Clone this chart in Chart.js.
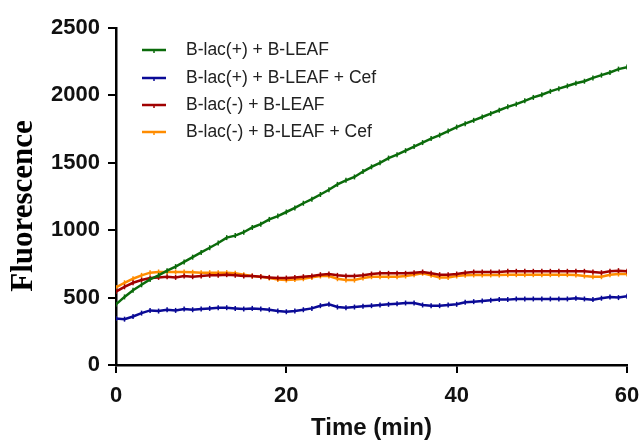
<!DOCTYPE html>
<html lang="en">
<head>
  <meta charset="UTF-8" />
  <title>Fluorescence over time</title>
  <script src="https://cdn.jsdelivr.net/npm/chart.js"></script>
  <style>
    html, body {
      margin: 0;
      padding: 0;
      background: #fff;
    }
    #chart-container {
      width: 641px;
      height: 444px;
      position: relative;
    }
  </style>
</head>
<body>
  <div id="chart-container">
    <canvas id="myChart" width="641" height="444"></canvas>
  </div>

  <script>
    // sample times, one reading per minute
    const minutes = Array.from({ length: 61 }, (_, i) => i);

    const labels = [
      'B-lac(+) + B-LEAF',
      'B-lac(+) + B-LEAF + Cef',
      'B-lac(-) + B-LEAF',
      'B-lac(-) + B-LEAF + Cef'
    ];

    const lacPlus = [
      450, 505, 555, 595, 635, 665, 700, 730, 765, 800,
      835, 870, 905, 945, 960, 985, 1020, 1045, 1080, 1105,
      1135, 1165, 1200, 1230, 1265, 1300, 1340, 1370, 1395, 1435,
      1470, 1500, 1535, 1560, 1590, 1620, 1650, 1680, 1705, 1735,
      1765, 1790, 1815, 1840, 1865, 1890, 1915, 1935, 1960, 1985,
      2005, 2030, 2050, 2070, 2090, 2105, 2130, 2150, 2170, 2195,
      2210
    ];

    const lacPlusCef = [
      345, 340, 360, 385, 405, 400, 410, 405, 415, 410,
      415, 420, 425, 425, 420, 415, 420, 415, 410, 400,
      395, 400, 410, 420, 440, 450, 430, 425, 430, 435,
      440, 445, 450, 455, 460, 460, 445, 440, 440, 445,
      450, 465, 470, 475, 480, 485, 485, 490, 490, 490,
      490, 490, 490, 490, 495, 490, 485, 495, 505, 500,
      510
    ];

    const lacMinus = [
      545, 580, 610, 630, 645, 650, 655, 650, 660, 655,
      660, 665, 665, 670, 665, 660, 660, 655, 650, 645,
      645, 650, 655, 660, 670, 675, 665, 660, 660, 665,
      675, 680, 680, 680, 680, 685, 690, 680, 670, 670,
      675, 685, 690, 690, 690, 690, 695, 695, 695, 695,
      695, 695, 695, 695, 695, 695, 690, 685, 695, 700,
      695
    ];

    const lacMinusCef = [
      575, 610, 640, 665, 685, 690, 690, 690, 690, 688,
      685, 685, 685, 685, 680, 670, 660, 655, 645, 635,
      630, 635, 640, 650, 660, 660, 640, 630, 630, 645,
      655, 655, 655, 655, 660, 670, 680, 665, 650, 650,
      660, 665, 668, 668, 668, 668, 670, 670, 670, 670,
      670, 670, 670, 670, 668, 660, 655, 655, 670, 675,
      675
    ];

    const xTicks = [0, 20, 40, 60];
    const yTicks = [0, 500, 1000, 1500, 2000, 2500];

    const colors = ['#0b6b0b', '#0a0a96', '#a00000', '#ff8c00'];
    const series = [lacPlus, lacPlusCef, lacMinus, lacMinusCef];
    const drawOrder = [0, 3, 1, 2];

    const sansBold = (size) => ({ family: "'Liberation Sans', Arial, sans-serif", size: size, weight: 'bold' });

    // legend sits inside the plot, top left
    const insideLegend = {
      id: 'insideLegend',
      afterDraw(chart) {
        const ctx = chart.ctx;
        ctx.save();
        const x0 = 142, x1 = 166, tx = 186;
        const rows = [50, 78, 105, 132];
        chart.data.datasets.forEach((ds, i) => {
          const y = rows[i];
          ctx.strokeStyle = ds.borderColor;
          ctx.lineWidth = 2.5;
          ctx.beginPath();
          ctx.moveTo(x0, y);
          ctx.lineTo(x1, y);
          ctx.stroke();
          ctx.lineWidth = 1.5;
          ctx.beginPath();
          ctx.moveTo((x0 + x1) / 2, y - 1);
          ctx.lineTo((x0 + x1) / 2, y + 3);
          ctx.stroke();
          ctx.fillStyle = '#222';
          ctx.font = "17.5px 'Liberation Sans', Arial, sans-serif";
          ctx.textBaseline = 'middle';
          ctx.textAlign = 'left';
          ctx.fillText(ds.label, tx, y);
        });
        ctx.restore();
      }
    };

    // y title in serif, placed by hand
    const yTitle = {
      id: 'yTitle',
      afterDraw(chart) {
        const ctx = chart.ctx;
        ctx.save();
        ctx.translate(24, 206);
        ctx.rotate(-Math.PI / 2);
        ctx.font = "bold 31px 'Liberation Serif', 'Times New Roman', serif";
        ctx.fillStyle = '#000';
        ctx.textAlign = 'center';
        ctx.textBaseline = 'middle';
        ctx.fillText('Fluorescence', 0, 0);
        ctx.restore();
      }
    };

    new Chart(document.getElementById('myChart').getContext('2d'), {
      type: 'line',
      data: {
        datasets: series.map((vals, i) => ({
          label: labels[i],
          data: vals.map((v, k) => ({ x: minutes[k], y: v })),
          borderColor: colors[i],
          backgroundColor: colors[i],
          borderWidth: 2.5,
          tension: 0,
          pointStyle: 'line',
          rotation: 90,
          pointRadius: 2.5,
          pointBorderWidth: 1.5,
          order: drawOrder[i]
        }))
      },
      options: {
        responsive: false,
        animation: false,
        layout: { padding: { top: 28, right: 14, left: 0, bottom: 0 } },
        plugins: {
          legend: { display: false },
          tooltip: { enabled: false }
        },
        scales: {
          x: {
            type: 'linear',
            min: 0,
            max: 60,
            afterFit: s => { s.height = 79; s.paddingLeft = 0; s.paddingRight = 0; },
            afterBuildTicks: s => { s.ticks = xTicks.map(v => ({ value: v })); },
            grid: { drawOnChartArea: false, tickLength: 8, lineWidth: 2, color: '#000' },
            border: { display: true, color: '#000', width: 2.5 },
            ticks: { color: '#111', font: sansBold(22), padding: 10, maxRotation: 0, callback: v => String(v) },
            title: {
              display: true,
              text: 'Time (min)',
              color: '#111',
              font: sansBold(24),
              padding: { top: 0, bottom: 1 }
            }
          },
          y: {
            min: 0,
            max: 2500,
            afterFit: s => { s.width = 116; s.paddingTop = 0; s.paddingBottom = 0; },
            afterBuildTicks: s => { s.ticks = yTicks.map(v => ({ value: v })); },
            grid: { drawOnChartArea: false, tickLength: 8, lineWidth: 2, color: '#000' },
            border: { display: true, color: '#000', width: 2.5 },
            ticks: { color: '#111', font: sansBold(22), padding: 8, callback: v => String(v) }
          }
        }
      },
      plugins: [insideLegend, yTitle]
    });
  </script>
</body>
</html>
